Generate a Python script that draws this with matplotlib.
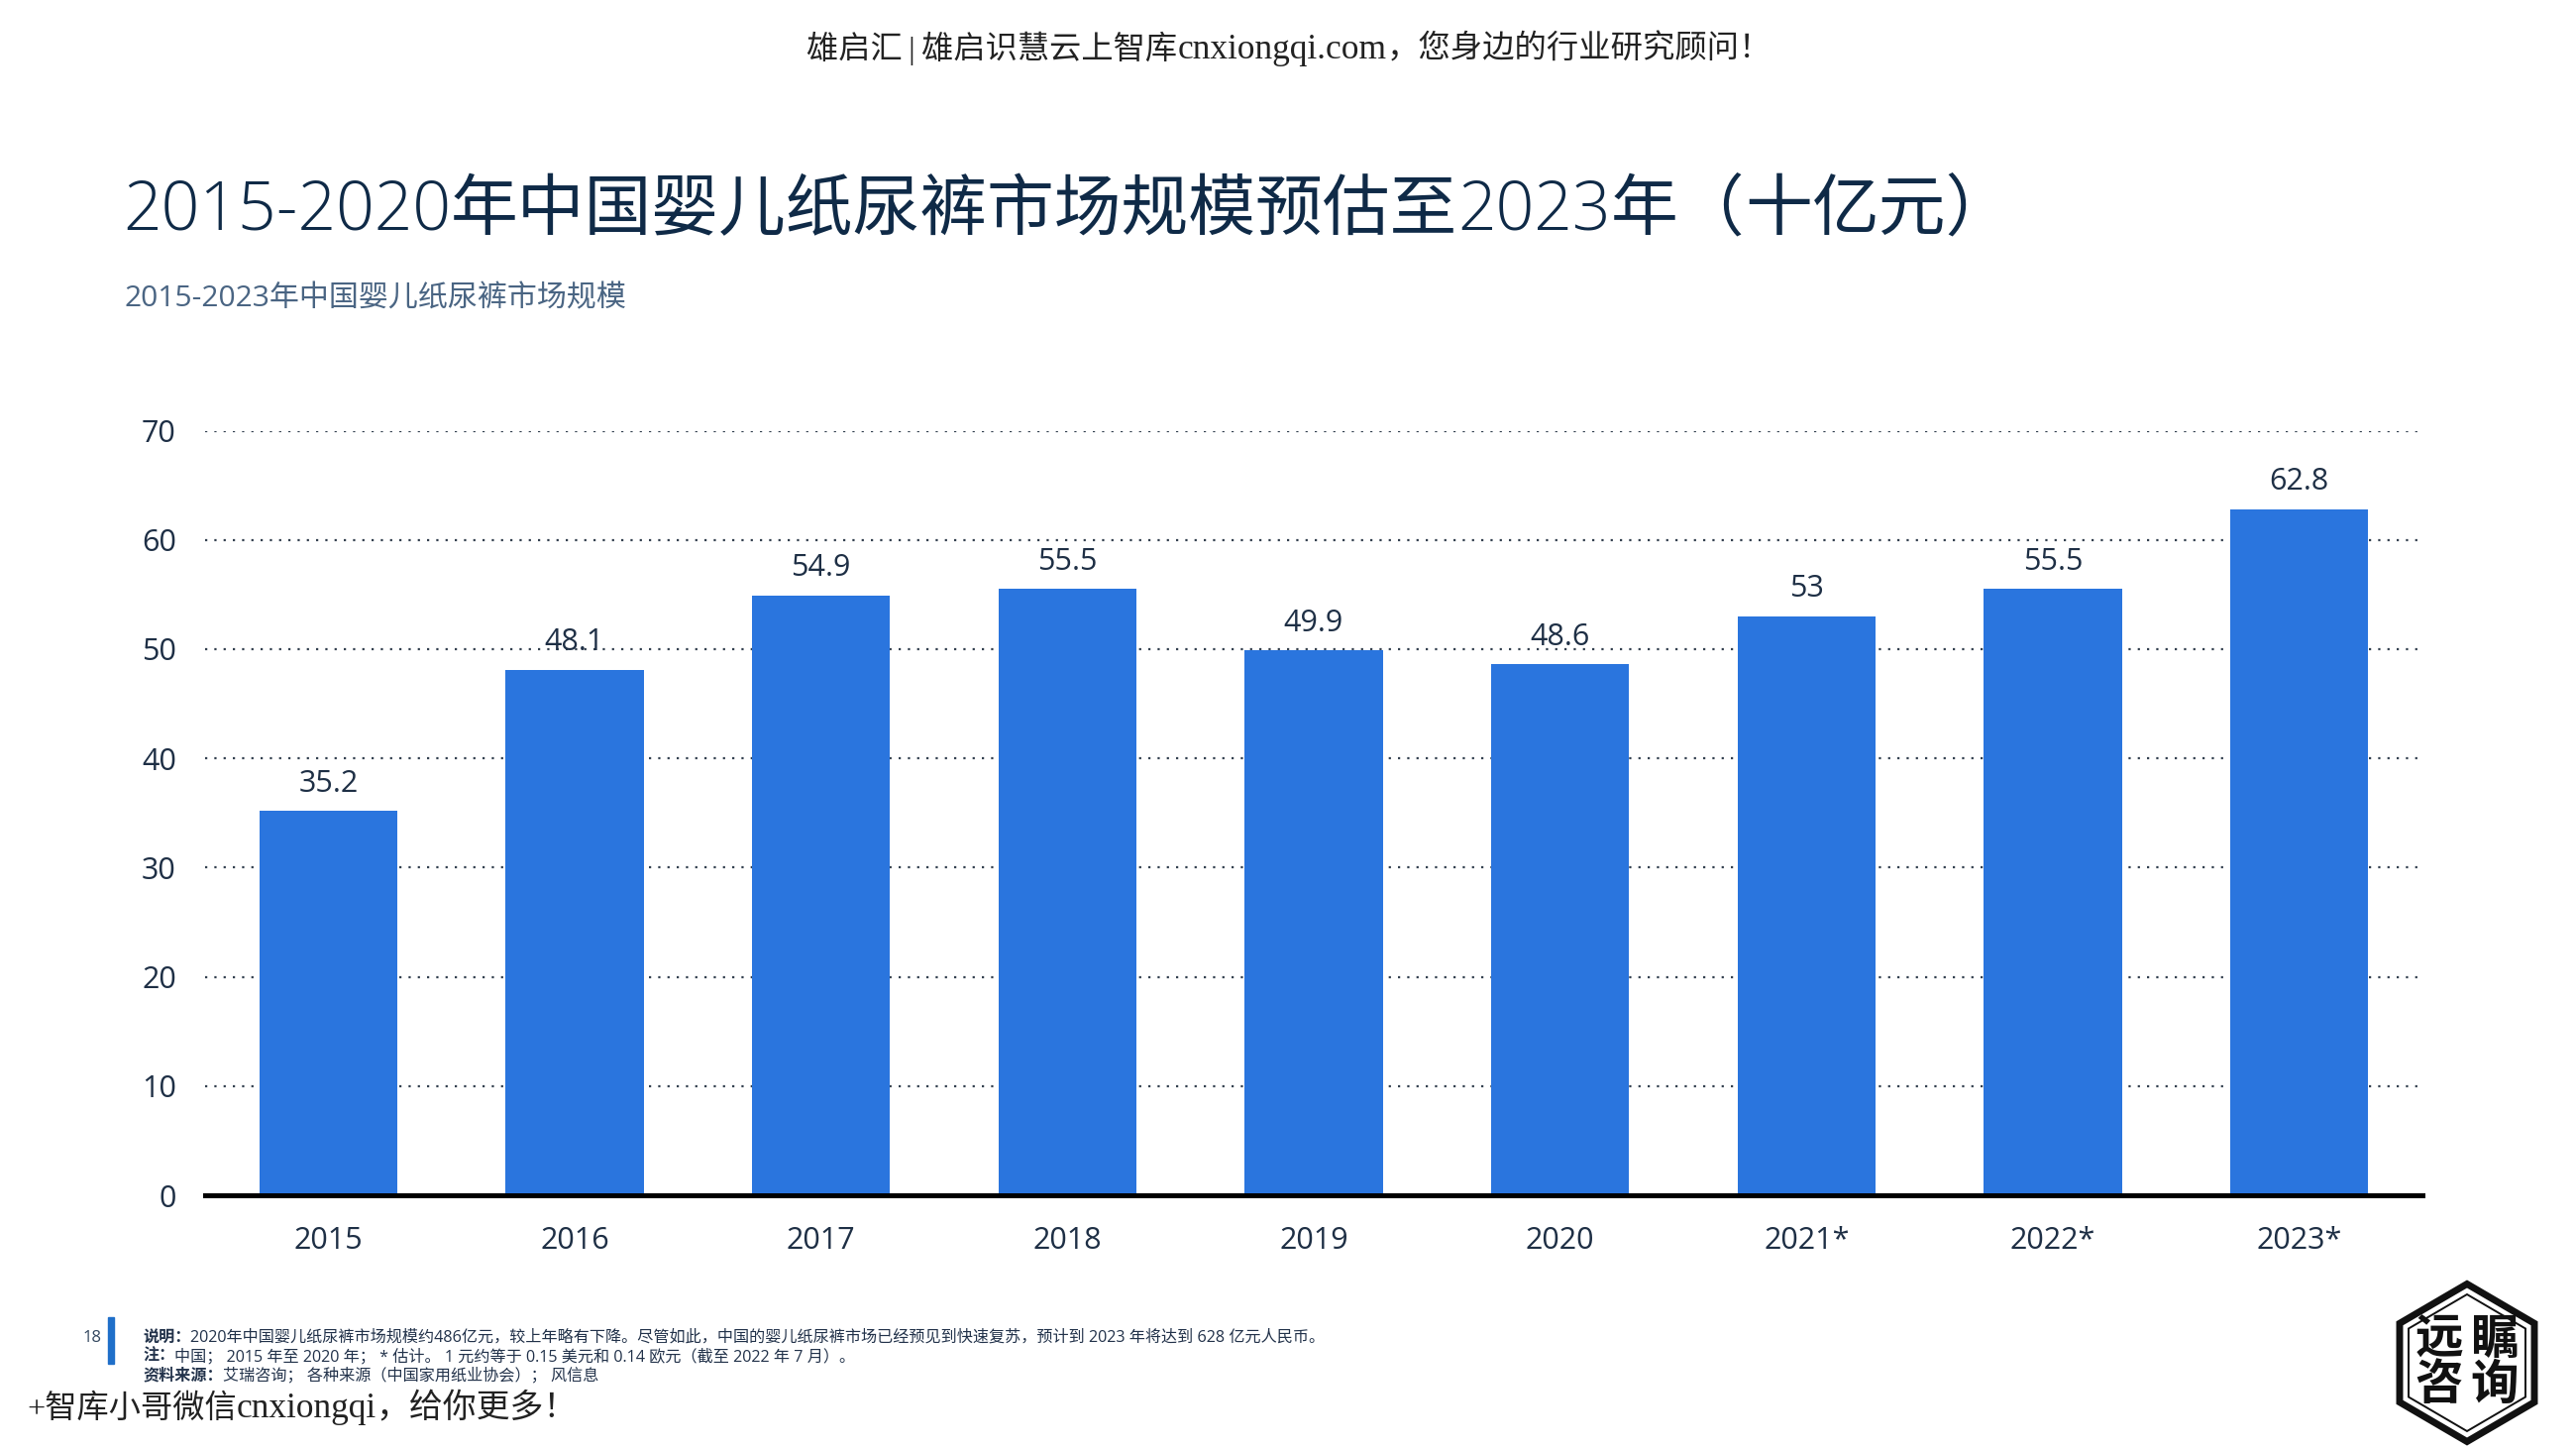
# -*- coding: utf-8 -*-
import numpy as np
import matplotlib
matplotlib.use('Agg')
import matplotlib.pyplot as plt
from matplotlib.patches import Polygon, Rectangle

# ---------------------------------- DATA ----------------------------------
years = ['2015', '2016', '2017', '2018', '2019', '2020', '2021*', '2022*', '2023*']
market_size = [35.2, 48.1, 54.9, 55.5, 49.9, 48.6, 53, 55.5, 62.8]
y_ticks = [0, 10, 20, 30, 40, 50, 60, 70]

subtitle = '2015-2023年中国婴儿纸尿裤市场规模'
header_runs = [('雄启汇\u2009|\u2009雄启识慧云上智库', 'regular', 23.2), ('cnxiongqi.com', 'regular', 25.5),
               ('\uff0c您身边的行业研究顾问\uff01', 'regular', 23.3)]
footer_runs = [('+智库小哥微信', 'regular', 23.2), ('cnxiongqi', 'regular', 25.5),
               ('\uff0c给你更多\uff01', 'regular', 24.4)]
title_runs = [('2015-2020', 'light', 48.8), ('年中国婴儿纸尿裤市场规模预估至', 'medium', 48.8),
              ('2023', 'light', 48.8), ('年\uff08', 'medium', 48.8), ('十', 'light', 48.8),
              ('亿元\uff09', 'medium', 48.8)]
notes = [('说明\uff1a', '2020年中国婴儿纸尿裤市场规模约486亿元\uff0c较上年略有下降。尽管如此\uff0c中国的婴儿纸尿裤市场已经预见到快速复苏\uff0c预计到 2023 年将达到 628 亿元人民币。'),
         ('注\uff1a', '中国\uff1b 2015 年至 2020 年\uff1b * 估计。 1 元约等于 0.15 美元和 0.14 欧元\uff08截至 2022 年 7 月\uff09。'),
         ('资料来源\uff1a', '艾瑞咨询\uff1b 各种来源\uff08中国家用纸业协会\uff09\uff1b 风信息')]

W, H = 2600, 1462
DARK = '#0f2a47'
SANS = ['Open Sans', 'Noto Sans CJK SC', 'DejaVu Sans']
SERIF = ['Liberation Serif', 'Noto Sans CJK SC', 'DejaVu Sans']
plt.rcParams['font.family'] = SANS

fig = plt.figure(figsize=(W / 100, H / 100), dpi=100, facecolor='white')


# pixel position (from the top left) to figure coords
def fx(x):
    return x / W


def fy(y):
    return 1 - y / H


# Write several text pieces one after the other
def write_runs(x, y, runs, color, family=SANS):
    renderer = fig.canvas.get_renderer()
    for s, weight, size in runs:
        t = fig.text(fx(x), fy(y), s, fontsize=size, color=color, weight=weight,
                     family=family, va='baseline', ha='left')
        x = t.get_window_extent(renderer).x1
    return x


# ---------------------------------- CHART ----------------------------------
ax = fig.add_axes([fx(207), fy(1206), (2445 - 207) / W, (1206 - 434.5) / H])
pos = np.arange(len(years))
bars = ax.bar(pos, market_size, width=0.56, color='#2a75de', zorder=3)
ax.bar_label(bars, fmt='%g', padding=9, fontsize=22, color='#1e2f45')

ax.set_xlim(-0.5, len(years) - 0.5)
ax.set_ylim(0, 70)
ax.set_xticks(pos, years)
ax.set_yticks(y_ticks)
ax.tick_params(axis='both', length=0, labelsize=22, labelcolor='#1e2f45')
ax.tick_params(axis='x', pad=22)
ax.tick_params(axis='y', pad=21)
ax.grid(axis='y', linestyle=(0, (1, 3.2)), linewidth=1.6, color='#33404f', zorder=1)
ax.set_axisbelow(True)
for s in ['top', 'right', 'left']:
    ax.spines[s].set_visible(False)
ax.spines['bottom'].set_linewidth(3.6)
ax.spines['bottom'].set_color('black')
ax.spines['bottom'].set_zorder(4)

# ---------------------------------- TEXTS ----------------------------------
write_runs(814, 59, header_runs, '#222222', family=SERIF)
write_runs(124, 232, title_runs, DARK)
fig.text(fx(126), fy(309), subtitle, fontsize=21.6, color='#4a6583', ha='left', va='baseline')

fig.text(fx(93), fy(1354), '18', fontsize=12, color='#33475f', ha='center', va='baseline')
fig.add_artist(Rectangle((fx(109), fy(1376)), 6 / W, 47 / H, color='#1f6fc9', transform=fig.transFigure))
for (head, body), y in zip(notes, [1354, 1373, 1392]):
    write_runs(144, y, [(head, 'bold', 11.6), (body, 'regular', 11.6)], '#22324a')

write_runs(27, 1430, footer_runs, '#222222', family=SERIF)

# ---------------------------------- LOGO ----------------------------------
cx, cy = 2490, 1375


def hexagon(rx, ry, lw):
    pts = [(0, -ry), (rx, -ry / 2), (rx, ry / 2), (0, ry), (-rx, ry / 2), (-rx, -ry / 2)]
    pts = [(fx(cx + a), fy(cy + b)) for a, b in pts]
    fig.add_artist(Polygon(pts, closed=True, fill=False, edgecolor='#111111', linewidth=lw,
                           joinstyle='miter', transform=fig.transFigure))


hexagon(68, 79.5, 5)
hexagon(59, 69, 1.4)
for s, dx, dy in [('远', -28, -24), ('瞩', 28, -24), ('咨', -28, 22), ('询', 28, 22)]:
    fig.text(fx(cx + dx), fy(cy + dy), s, fontsize=35, weight='bold', color='#111111',
             family=['Noto Sans CJK SC'], ha='center', va='center')

fig.savefig('out.png', dpi=100, facecolor='white')
